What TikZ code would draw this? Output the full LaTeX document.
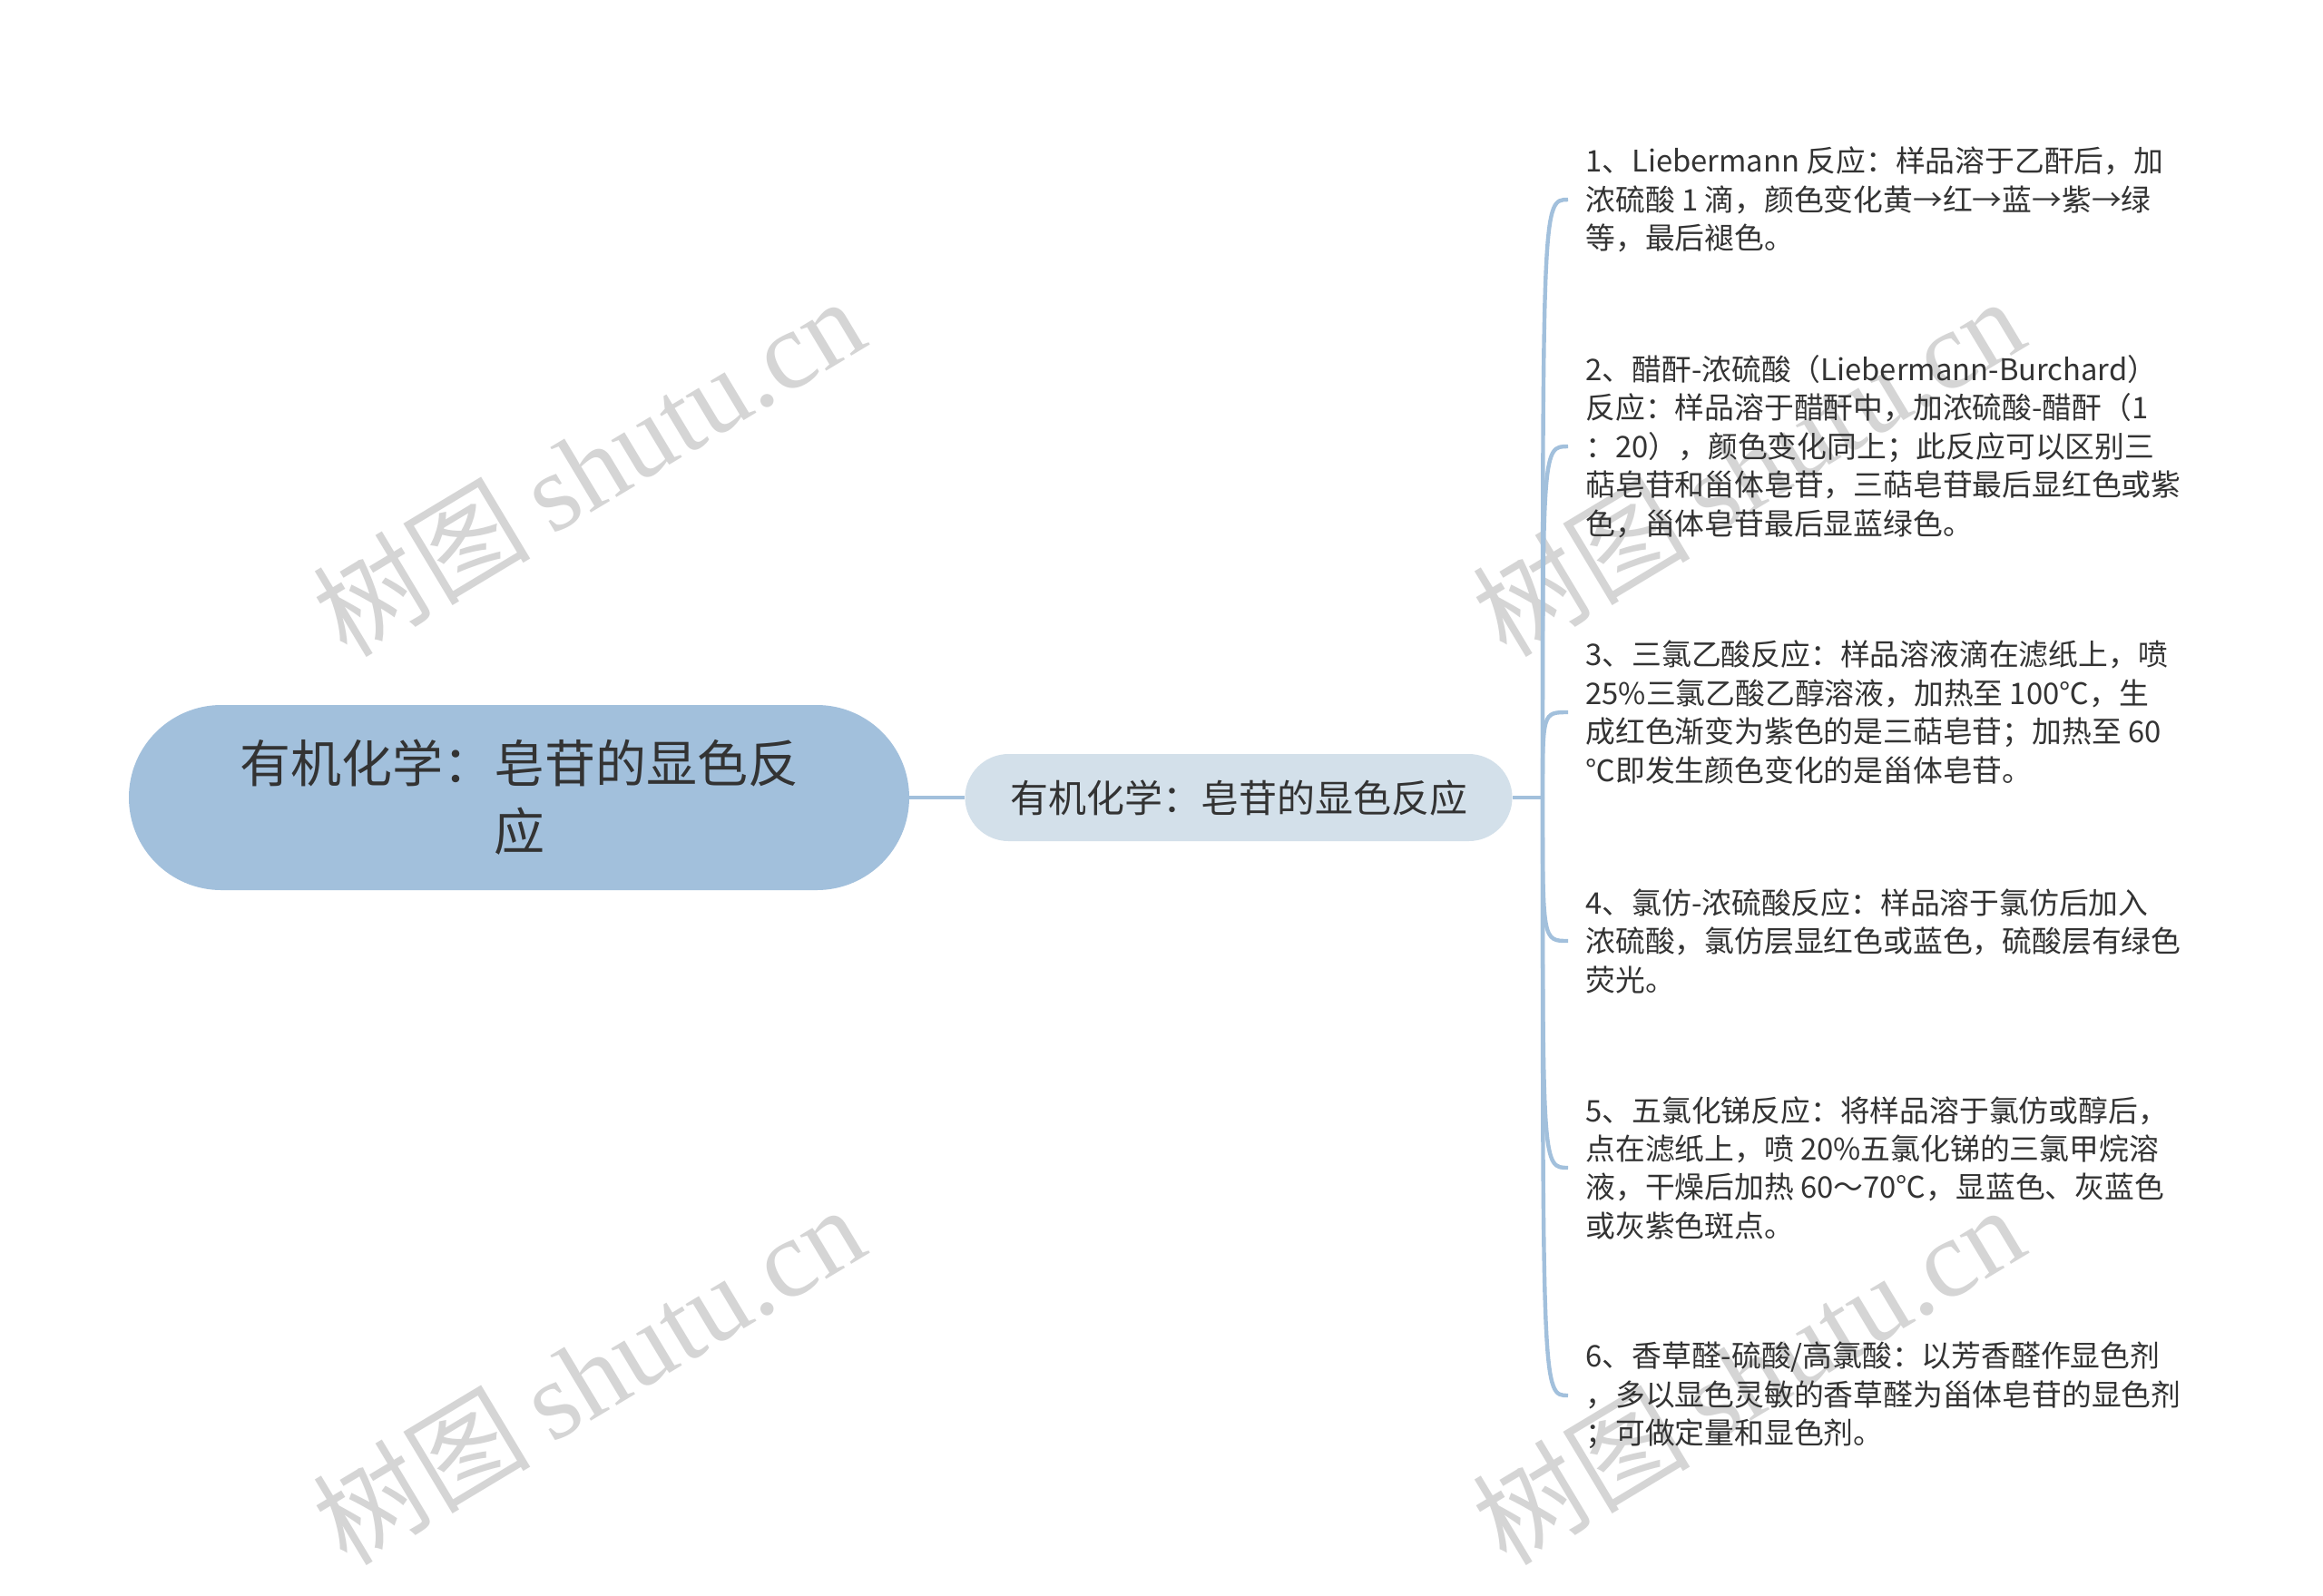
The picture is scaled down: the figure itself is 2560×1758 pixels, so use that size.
\documentclass[tikz,border=0pt]{standalone}
\usepackage{fontspec}
\setmainfont{Noto Sans CJK SC}
\newfontfamily\wmserif{Liberation Serif}
\definecolor{rootfill}{HTML}{A2C0DC}
\definecolor{midfill}{HTML}{D3E0EA}
\definecolor{linec}{HTML}{A2C0DC}
\definecolor{txt}{HTML}{333333}
\definecolor{wm}{HTML}{D5D5D5}
\newcommand{\wmtext}{{\fontsize{60}{60}\selectfont 树图}\hspace{12pt}{\wmserif\fontsize{61}{61}\selectfont shutu.cn}}
\begin{document}
\begin{tikzpicture}[x=0.5pt,y=-0.5pt,
  rootbox/.style={fill=rootfill, rounded corners=51pt, minimum width=430pt, minimum height=102pt,
    align=center, text=txt, font=\fontsize{28}{37.5}\selectfont, inner sep=0pt},
  midbox/.style={fill=midfill, rounded corners=24pt, minimum width=301.5pt, minimum height=48pt,
    align=center, text=txt, font=\fontsize{21}{26}\selectfont, inner sep=0pt},
  leafbox/.style={anchor=west, align=left, text=txt, font=\fontsize{16.4}{21.2}\selectfont,
    inner xsep=9.5pt, inner ysep=0pt},
  conn/.style={draw=linec, line width=2.2pt},
  wmark/.style={rotate=31, text=wm, inner sep=0pt}]
\fill[white] (0,0) rectangle (2560,1758);
\useasboundingbox (0,0) rectangle (2560,1758);

% watermarks
\node[wmark] (wm1) at (648,514) {\wmtext};
\node[wmark] (wm2) at (648,1515) {\wmtext};
\node[wmark] (wm3) at (1926,514) {\wmtext};
\node[wmark] (wm4) at (1926,1515) {\wmtext};

% nodes
\node[rootbox] (root) at (572,879) {有机化学：皂苷的显色反\\应};
\node[midbox] (mid) at (1365,879) {有机化学：皂苷的显色反应};
\coordinate (br) at (1700,879);

\node[leafbox] (l1) at (1728,220) {1、Liebermann 反应：样品溶于乙酐后，加\\浓硫酸 1 滴，颜色变化黄→红→蓝→紫→绿\\等，最后褪色。};
\node[leafbox] (l2) at (1728,492) {2、醋酐-浓硫酸（Liebermann-Burchard）\\反应：样品溶于醋酐中，加浓硫酸-醋酐（1\\：20），颜色变化同上；此反应可以区别三\\萜皂苷和甾体皂苷，三萜皂苷最后显红色或紫\\色，甾体皂苷最后显蓝绿色。};
\node[leafbox] (l3) at (1728,785) {3、三氯乙酸反应：样品溶液滴在滤纸上，喷\\25\%三氯乙酸乙醇溶液，加热至 100℃，生\\成红色渐变为紫色的是三萜皂苷；加热至 60\\℃即发生颜色变化的是甾体皂苷。};
\node[leafbox] (l4) at (1728,1037) {4、氯仿-浓硫酸反应：样品溶于氯仿后加入\\浓硫酸，氯仿层显红色或蓝色，硫酸层有绿色\\荧光。};
\node[leafbox] (l5) at (1728,1287) {5、五氯化锑反应：将样品溶于氯仿或醇后，\\点在滤纸上，喷 20\%五氯化锑的三氯甲烷溶\\液，干燥后加热 60～70℃，显蓝色、灰蓝色\\或灰紫色斑点。};
\node[leafbox] (l6) at (1728,1538) {6、香草醛-硫酸/高氯酸：以芳香醛作显色剂\\，多以显色灵敏的香草醛为甾体皂苷的显色剂\\；可做定量和显色剂。};

% connectors
\draw[conn] (root.east) -- (mid.west);
\draw[conn] (mid.east) -- (br);
\foreach \l in {l1,l2,l3,l4,l5,l6}{
  \draw[conn] (br) .. controls (br |- \l.west) .. (\l.west);
}
\end{tikzpicture}
\end{document}
